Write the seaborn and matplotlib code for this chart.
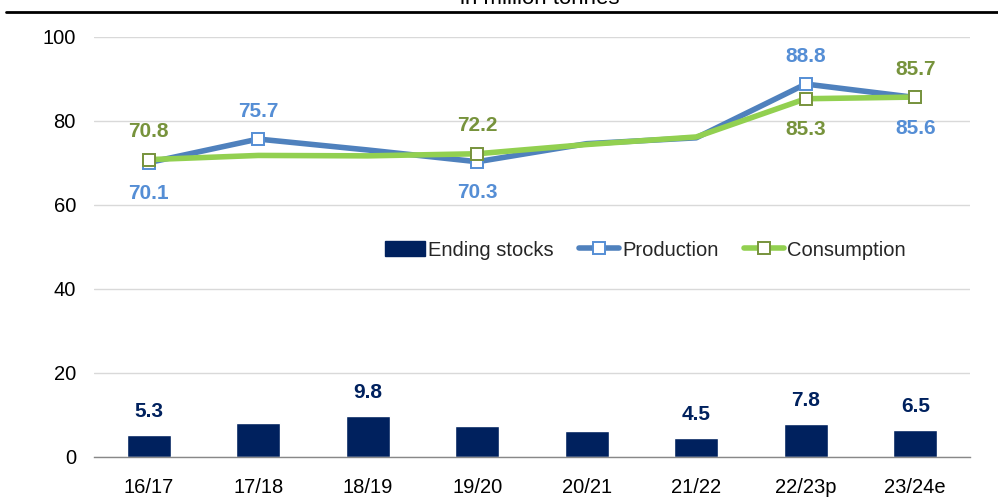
import matplotlib
matplotlib.use("Agg")
import matplotlib.pyplot as plt
from matplotlib.lines import Line2D
from matplotlib.patches import Patch
import seaborn as sns
import pandas as pd
import numpy as np

seasons = ["16/17", "17/18", "18/19", "19/20", "20/21", "21/22", "22/23p", "23/24e"]
ending_stocks = [5.3, 8.0, 9.8, 7.5, 6.3, 4.5, 7.8, 6.5]
production = [70.1, 75.7, 73.1, 70.3, 74.6, 76.0, 88.8, 85.6]
consumption = [70.8, 71.8, 71.7, 72.2, 74.4, 76.2, 85.3, 85.7]

stock_labelled = [0, 2, 5, 6, 7]
prod_marked = [0, 1, 3, 6, 7]
prod_label_pos = ["below", "above", None, "below", None, None, "above", "below"]
cons_marked = [0, 3, 6, 7]
cons_label_pos = ["above", None, None, "above", None, None, "below", "above"]

NAVY = "#00215E"
BLUE_LINE = "#4F81BD"
BLUE_TXT = "#558ED5"
GREEN_LINE = "#92D050"
GREEN_TXT = "#77933C"

sns.set_theme(style="white")
plt.rcParams["font.family"] = ["Liberation Sans", "DejaVu Sans"]

fig = plt.figure(figsize=(9.98, 5.03), dpi=100)
ax = fig.add_axes([94 / 998, 1 - 457 / 503, (970 - 94) / 998, (457 - 37) / 503])

df = pd.DataFrame({"season": seasons, "stocks": ending_stocks,
                   "production": production, "consumption": consumption,
                   "idx": np.arange(len(seasons))})

sns.barplot(data=df, x="season", y="stocks", color=NAVY, width=0.4,
            saturation=1, ax=ax, zorder=2)
sns.lineplot(data=df, x="idx", y="production", color=BLUE_LINE, lw=4,
             ax=ax, zorder=3)
sns.lineplot(data=df, x="idx", y="consumption", color=GREEN_LINE, lw=4,
             ax=ax, zorder=4)
ax.plot(df["idx"].iloc[prod_marked], df["production"].iloc[prod_marked],
        ls="none", marker="s", ms=8, mfc="white", mec=BLUE_TXT, mew=1.4, zorder=5)
ax.plot(df["idx"].iloc[cons_marked], df["consumption"].iloc[cons_marked],
        ls="none", marker="s", ms=8, mfc="white", mec=GREEN_TXT, mew=1.4, zorder=6)

fs_lab = 15
for i in stock_labelled:
    ax.annotate(f"{ending_stocks[i]:.1f}", (i, ending_stocks[i]), xytext=(0, 17),
                textcoords="offset points", ha="center", va="center",
                fontsize=fs_lab, fontweight="bold", color=NAVY)
for i, pos in enumerate(prod_label_pos):
    if pos:
        off = 20 if pos == "above" else -22
        ax.annotate(f"{production[i]:.1f}", (i, production[i]), xytext=(0, off),
                    textcoords="offset points", ha="center", va="center",
                    fontsize=fs_lab, fontweight="bold", color=BLUE_TXT)
for i, pos in enumerate(cons_label_pos):
    if pos:
        off = 20 if pos == "above" else -22
        ax.annotate(f"{consumption[i]:.1f}", (i, consumption[i]), xytext=(0, off),
                    textcoords="offset points", ha="center", va="center",
                    fontsize=fs_lab, fontweight="bold", color=GREEN_TXT)

ax.set_xlim(-0.5, len(seasons) - 0.5)
ax.set_ylim(0, 100)
ax.set_yticks([0, 20, 40, 60, 80, 100])
ax.set_xticks(range(len(seasons)))
ax.set_xticklabels(seasons)
ax.set_xlabel("")
ax.set_ylabel("")
ax.grid(axis="y", color="#D9D9D9", lw=1)
ax.set_axisbelow(True)
for s in ["top", "right", "left"]:
    ax.spines[s].set_visible(False)
ax.spines["bottom"].set_color("#888888")
ax.spines["bottom"].set_linewidth(1)
ax.tick_params(axis="y", length=0, pad=13, labelsize=14.5, labelcolor="black")
ax.tick_params(axis="x", length=0, pad=15, labelsize=14.5, labelcolor="black")

handles = [Patch(facecolor=NAVY, edgecolor=NAVY),
           Line2D([], [], color=BLUE_LINE, lw=4, marker="s", ms=8, mfc="white", mec=BLUE_TXT, mew=1.4),
           Line2D([], [], color=GREEN_LINE, lw=4, marker="s", ms=8, mfc="white", mec=GREEN_TXT, mew=1.4)]
ax.legend(handles, ["Ending stocks", "Production", "Consumption"], ncol=3,
          loc="center", bbox_to_anchor=((645 - 94) / 876, (457 - 250) / 420),
          frameon=False, fontsize=14.5, handlelength=2.0, handletextpad=0.15,
          columnspacing=1.25, handleheight=0.7)

fig.text(540 / 998, 1 - 4 / 503, "in million tonnes", ha="center", va="baseline",
         fontsize=16, color="black")
fig.add_artist(Line2D([6 / 998, 1], [1 - 12 / 503, 1 - 12 / 503], color="black", lw=2))

fig.savefig("out.png", dpi=100)
